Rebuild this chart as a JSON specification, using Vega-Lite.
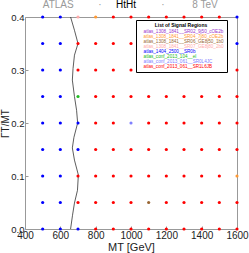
{
  "$schema": "https://vega.github.io/schema/vega-lite/v6.json",
  "width": 212,
  "height": 212,
  "autosize": {"type": "none"},
  "padding": {"left": 25, "top": 17, "right": 12, "bottom": 24},
  "config": {
    "view": {"stroke": "#999999", "strokeWidth": 1},
    "font": "Liberation Sans",
    "axis": {"domain": false, "grid": false, "tickColor": "#999999", "tickSize": -3, "labelPadding": 4, "labelFontSize": 10, "labelColor": "#222222", "titleFontSize": 11, "titleFontWeight": "normal", "titleColor": "#222222", "labelFlush": false, "labelOverlap": false}
  },
  "datasets": {
    "regions": [
      {"k": 1, "region": "atlas_1308_1841__SR02_9j50_cOE2b"},
      {"k": 2, "region": "atlas_1308_1841__SR04_7j80_cOE2b"},
      {"k": 3, "region": "atlas_1308_1841__SR06_GE8j50_1b0"},
      {"k": 4, "region": "atlas_1308_1841__SR07_GE8j80_2b0"},
      {"k": 5, "region": "atlas_1404_2500__SR0b"},
      {"k": 6, "region": "atlas_conf_2013_104__el"},
      {"k": 7, "region": "atlas_conf_2013_061__SR0L4JC"},
      {"k": 8, "region": "atlas_conf_2013_061__SR1L6JB"}
    ],
    "grid": [
      {"m":500,"g":0.4,"k":5},{"m":600,"g":0.4,"k":5},{"m":700,"g":0.4,"k":4},{"m":800,"g":0.4,"k":2},{"m":900,"g":0.4,"k":8},{"m":1000,"g":0.4,"k":8},{"m":1100,"g":0.4,"k":8},{"m":1200,"g":0.4,"k":8},{"m":1300,"g":0.4,"k":8},{"m":1400,"g":0.4,"k":8},{"m":1500,"g":0.4,"k":8},{"m":1600,"g":0.4,"k":5},
      {"m":500,"g":0.35,"k":5},{"m":600,"g":0.35,"k":5},{"m":700,"g":0.35,"k":8},{"m":800,"g":0.35,"k":8},{"m":900,"g":0.35,"k":8},{"m":1000,"g":0.35,"k":8},{"m":1100,"g":0.35,"k":8},{"m":1200,"g":0.35,"k":8},{"m":1300,"g":0.35,"k":8},{"m":1400,"g":0.35,"k":8},{"m":1500,"g":0.35,"k":8},{"m":1600,"g":0.35,"k":5},
      {"m":500,"g":0.3,"k":5},{"m":600,"g":0.3,"k":5},{"m":700,"g":0.3,"k":8},{"m":800,"g":0.3,"k":8},{"m":900,"g":0.3,"k":8},{"m":1000,"g":0.3,"k":8},{"m":1100,"g":0.3,"k":1},{"m":1200,"g":0.3,"k":8},{"m":1300,"g":0.3,"k":3},{"m":1400,"g":0.3,"k":3},{"m":1500,"g":0.3,"k":8},{"m":1600,"g":0.3,"k":8},
      {"m":500,"g":0.25,"k":5},{"m":600,"g":0.25,"k":5},{"m":700,"g":0.25,"k":6},{"m":800,"g":0.25,"k":8},{"m":900,"g":0.25,"k":8},{"m":1000,"g":0.25,"k":8},{"m":1100,"g":0.25,"k":8},{"m":1200,"g":0.25,"k":8},{"m":1300,"g":0.25,"k":8},{"m":1400,"g":0.25,"k":8},{"m":1500,"g":0.25,"k":8},{"m":1600,"g":0.25,"k":8},
      {"m":500,"g":0.2,"k":5},{"m":600,"g":0.2,"k":5},{"m":700,"g":0.2,"k":5},{"m":800,"g":0.2,"k":8},{"m":900,"g":0.2,"k":8},{"m":1000,"g":0.2,"k":7},{"m":1100,"g":0.2,"k":8},{"m":1200,"g":0.2,"k":8},{"m":1300,"g":0.2,"k":8},{"m":1400,"g":0.2,"k":8},{"m":1500,"g":0.2,"k":8},{"m":1600,"g":0.2,"k":8},
      {"m":500,"g":0.15,"k":5},{"m":600,"g":0.15,"k":5},{"m":700,"g":0.15,"k":5},{"m":800,"g":0.15,"k":8},{"m":900,"g":0.15,"k":8},{"m":1000,"g":0.15,"k":8},{"m":1100,"g":0.15,"k":8},{"m":1200,"g":0.15,"k":8},{"m":1300,"g":0.15,"k":8},{"m":1400,"g":0.15,"k":8},{"m":1500,"g":0.15,"k":8},{"m":1600,"g":0.15,"k":8},
      {"m":500,"g":0.1,"k":5},{"m":600,"g":0.1,"k":5},{"m":700,"g":0.1,"k":8},{"m":800,"g":0.1,"k":8},{"m":900,"g":0.1,"k":8},{"m":1000,"g":0.1,"k":8},{"m":1100,"g":0.1,"k":8},{"m":1200,"g":0.1,"k":8},{"m":1300,"g":0.1,"k":8},{"m":1400,"g":0.1,"k":8},{"m":1500,"g":0.1,"k":8},{"m":1600,"g":0.1,"k":2},
      {"m":500,"g":0.05,"k":5},{"m":600,"g":0.05,"k":5},{"m":700,"g":0.05,"k":8},{"m":800,"g":0.05,"k":8},{"m":900,"g":0.05,"k":8},{"m":1000,"g":0.05,"k":8},{"m":1100,"g":0.05,"k":3},{"m":1200,"g":0.05,"k":8},{"m":1300,"g":0.05,"k":8},{"m":1400,"g":0.05,"k":8},{"m":1500,"g":0.05,"k":8},{"m":1600,"g":0.05,"k":8},
      {"m":500,"g":0,"k":5},{"m":600,"g":0,"k":5},{"m":700,"g":0,"k":5},{"m":800,"g":0,"k":8},{"m":900,"g":0,"k":8},{"m":1000,"g":0,"k":8},{"m":1100,"g":0,"k":8},{"m":1200,"g":0,"k":8},{"m":1300,"g":0,"k":8},{"m":1400,"g":0,"k":8},{"m":1500,"g":0,"k":8},{"m":1600,"g":0,"k":8}
    ],
    "limit": [
      {"m":658,"g":0.4},{"m":680,"g":0.375},{"m":700,"g":0.35},{"m":680,"g":0.328},{"m":672,"g":0.303},{"m":668,"g":0.281},{"m":680,"g":0.25},{"m":692,"g":0.224},{"m":698,"g":0.2},{"m":677,"g":0.173},{"m":668,"g":0.153},{"m":680,"g":0.13},{"m":702,"g":0.102},{"m":697,"g":0.073},{"m":680,"g":0.049},{"m":669,"g":0.026},{"m":658,"g":0}
    ],
    "header": [
      {"word": "ATLAS", "m": 588},
      {"word": "·", "m": 824},
      {"word": "HtHt", "m": 972},
      {"word": "·", "m": 1181},
      {"word": "8 TeV", "m": 1419}
    ]
  },
  "encoding": {
    "x": {"field": "m", "type": "quantitative", "scale": {"domain": [400, 1600], "nice": false, "zero": false},
          "axis": {"values": [400, 600, 800, 1000, 1200, 1400, 1600], "format": "d", "title": "MT  [GeV]", "titlePadding": 1, "labelOverlap": false, "labelSeparation": 0, "labelBound": false}}
  },
  "layer": [
    {
      "data": {"name": "limit"},
      "mark": {"type": "line", "color": "#333333", "strokeWidth": 0.8},
      "encoding": {
        "y": {"field": "g", "type": "quantitative", "scale": {"domain": [0, 0.4], "nice": false},
              "axis": {"values": [0, 0.1, 0.2, 0.3, 0.4], "format": ".1f", "title": "ΓT/MT", "titleFontSize": 10, "titlePadding": 0, "labelFontSize": 9.5, "labelOverlap": false}},
        "order": {"field": "g", "type": "quantitative"}
      }
    },
    {
      "data": {"name": "grid"},
      "transform": [{"lookup": "k", "from": {"data": {"name": "regions"}, "key": "k", "fields": ["region"]}}],
      "mark": {"type": "circle", "size": 10, "opacity": 1},
      "encoding": {
        "y": {"field": "g", "type": "quantitative"},
        "color": {
          "field": "region", "type": "nominal",
          "scale": {
            "domain": ["atlas_1308_1841__SR02_9j50_cOE2b", "atlas_1308_1841__SR04_7j80_cOE2b", "atlas_1308_1841__SR06_GE8j50_1b0", "atlas_1308_1841__SR07_GE8j80_2b0", "atlas_1404_2500__SR0b", "atlas_conf_2013_104__el", "atlas_conf_2013_061__SR0L4JC", "atlas_conf_2013_061__SR1L6JB"],
            "range": ["#9933cc", "#ff9933", "#996633", "#ffaaaa", "#0000ff", "#22bb22", "#8080ff", "#ff0000"]
          },
          "legend": {
            "orient": "none", "legendX": 111, "legendY": 3,
            "title": "List of Signal Regions", "titleFontSize": 5, "titleFontWeight": "bold", "titleColor": "black", "titleAnchor": "middle", "titlePadding": 2,
            "labelFontSize": 4.6, "labelLimit": 200, "labelOffset": 0,
            "symbolSize": 0, "symbolStrokeWidth": 0, "symbolOpacity": 0,
            "rowPadding": 0, "padding": 3, "strokeColor": "black", "fillColor": "white",
            "encode": {"labels": {"update": {"fill": {"scale": "color", "field": "value"}}}}
          }
        }
      }
    },
    {
      "data": {"name": "header"},
      "mark": {"type": "text", "fontSize": 10, "baseline": "middle", "align": "center"},
      "encoding": {
        "y": {"datum": 0.422},
        "text": {"field": "word"},
        "color": {"condition": {"test": "datum.word === 'HtHt'", "value": "black"}, "value": "#999999"}
      }
    }
  ]
}
